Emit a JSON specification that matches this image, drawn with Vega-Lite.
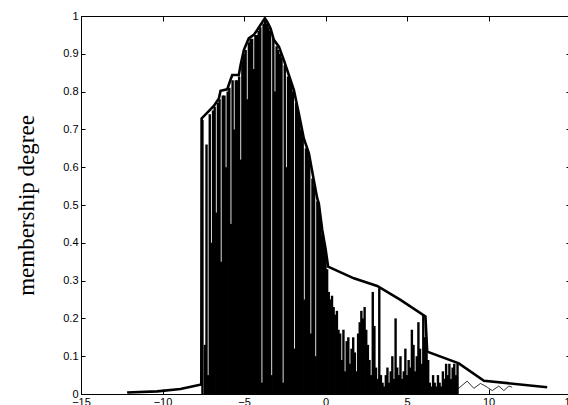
{
  "$schema": "https://vega.github.io/schema/vega-lite/v6.json",
  "width": 489,
  "height": 378,
  "autosize": {"type": "none"},
  "padding": {"left": 81, "top": 16, "right": 0, "bottom": 11},
  "background": "white",
  "config": {
    "view": {"stroke": "black", "strokeWidth": 1},
    "axis": {
      "grid": false,
      "domainColor": "black",
      "domainWidth": 1,
      "tickColor": "black",
      "tickWidth": 1,
      "labelColor": "black",
      "labelFont": "Liberation Sans",
      "labelFontSize": 11,
      "labelFlush": false,
      "labelOverlap": false,
      "titleColor": "black"
    }
  },
  "datasets": {
    "spikes": [
      {"x": -7.55, "h": 0.725}, {"x": -7.4, "h": 0.13}, {"x": -7.3, "h": 0.66}, {"x": -7.2, "h": 0.05},
      {"x": -7.1, "h": 0.74}, {"x": -7.0, "h": 0.40}, {"x": -6.9, "h": 0.75}, {"x": -6.8, "h": 0.76},
      {"x": -6.7, "h": 0.48}, {"x": -6.6, "h": 0.77}, {"x": -6.5, "h": 0.78}, {"x": -6.4, "h": 0.35},
      {"x": -6.3, "h": 0.79}, {"x": -6.2, "h": 0.79}, {"x": -6.1, "h": 0.60}, {"x": -6.0, "h": 0.80},
      {"x": -5.9, "h": 0.81}, {"x": -5.8, "h": 0.45}, {"x": -5.7, "h": 0.83}, {"x": -5.6, "h": 0.70},
      {"x": -5.5, "h": 0.83}, {"x": -5.4, "h": 0.83}, {"x": -5.3, "h": 0.84}, {"x": -5.2, "h": 0.62},
      {"x": -5.1, "h": 0.88}, {"x": -5.0, "h": 0.90}, {"x": -4.9, "h": 0.91}, {"x": -4.8, "h": 0.78},
      {"x": -4.7, "h": 0.93}, {"x": -4.6, "h": 0.94}, {"x": -4.5, "h": 0.94}, {"x": -4.4, "h": 0.86},
      {"x": -4.3, "h": 0.95}, {"x": -4.2, "h": 0.95}, {"x": -4.1, "h": 0.96}, {"x": -4.0, "h": 0.97},
      {"x": -3.9, "h": 0.03}, {"x": -3.8, "h": 0.98}, {"x": -3.7, "h": 0.99}, {"x": -3.6, "h": 0.98},
      {"x": -3.5, "h": 0.97}, {"x": -3.4, "h": 0.96}, {"x": -3.3, "h": 0.05}, {"x": -3.2, "h": 0.94},
      {"x": -3.1, "h": 0.80}, {"x": -3.0, "h": 0.92}, {"x": -2.9, "h": 0.91}, {"x": -2.8, "h": 0.90},
      {"x": -2.7, "h": 0.89}, {"x": -2.6, "h": 0.03}, {"x": -2.5, "h": 0.87}, {"x": -2.4, "h": 0.60},
      {"x": -2.3, "h": 0.84}, {"x": -2.2, "h": 0.83}, {"x": -2.1, "h": 0.82}, {"x": -2.0, "h": 0.80},
      {"x": -1.9, "h": 0.12}, {"x": -1.8, "h": 0.77}, {"x": -1.7, "h": 0.75}, {"x": -1.6, "h": 0.72},
      {"x": -1.5, "h": 0.70}, {"x": -1.4, "h": 0.68}, {"x": -1.3, "h": 0.25}, {"x": -1.2, "h": 0.65},
      {"x": -1.1, "h": 0.64}, {"x": -1.0, "h": 0.62}, {"x": -0.9, "h": 0.16}, {"x": -0.8, "h": 0.57},
      {"x": -0.7, "h": 0.55}, {"x": -0.6, "h": 0.10}, {"x": -0.5, "h": 0.51}, {"x": -0.4, "h": 0.49},
      {"x": -0.3, "h": 0.46}, {"x": -0.2, "h": 0.42}, {"x": -0.1, "h": 0.40}, {"x": 0.0, "h": 0.37},
      {"x": 0.1, "h": 0.33}, {"x": 0.2, "h": 0.27}, {"x": 0.3, "h": 0.25}, {"x": 0.4, "h": 0.26},
      {"x": 0.5, "h": 0.23}, {"x": 0.6, "h": 0.21}, {"x": 0.7, "h": 0.22}, {"x": 0.8, "h": 0.17},
      {"x": 0.9, "h": 0.16}, {"x": 1.0, "h": 0.09}, {"x": 1.1, "h": 0.17}, {"x": 1.2, "h": 0.06},
      {"x": 1.3, "h": 0.14}, {"x": 1.4, "h": 0.15}, {"x": 1.5, "h": 0.08}, {"x": 1.6, "h": 0.12},
      {"x": 1.7, "h": 0.15}, {"x": 1.8, "h": 0.11}, {"x": 1.9, "h": 0.06}, {"x": 2.0, "h": 0.16},
      {"x": 2.1, "h": 0.19}, {"x": 2.2, "h": 0.22}, {"x": 2.3, "h": 0.20}, {"x": 2.4, "h": 0.23},
      {"x": 2.5, "h": 0.17}, {"x": 2.6, "h": 0.13}, {"x": 2.7, "h": 0.09}, {"x": 2.8, "h": 0.05},
      {"x": 2.9, "h": 0.27}, {"x": 3.0, "h": 0.18}, {"x": 3.1, "h": 0.07}, {"x": 3.2, "h": 0.04},
      {"x": 3.3, "h": 0.28}, {"x": 3.4, "h": 0.05}, {"x": 3.5, "h": 0.03}, {"x": 3.6, "h": 0.02},
      {"x": 3.7, "h": 0.05}, {"x": 3.8, "h": 0.07}, {"x": 3.9, "h": 0.03}, {"x": 4.0, "h": 0.06},
      {"x": 4.1, "h": 0.10}, {"x": 4.2, "h": 0.04}, {"x": 4.3, "h": 0.20}, {"x": 4.4, "h": 0.07},
      {"x": 4.5, "h": 0.05}, {"x": 4.6, "h": 0.10}, {"x": 4.7, "h": 0.04}, {"x": 4.8, "h": 0.06},
      {"x": 4.9, "h": 0.12}, {"x": 5.0, "h": 0.05}, {"x": 5.1, "h": 0.09}, {"x": 5.2, "h": 0.07},
      {"x": 5.3, "h": 0.17}, {"x": 5.4, "h": 0.13}, {"x": 5.5, "h": 0.06}, {"x": 5.6, "h": 0.10},
      {"x": 5.7, "h": 0.19}, {"x": 5.8, "h": 0.12}, {"x": 5.9, "h": 0.08}, {"x": 6.0, "h": 0.21},
      {"x": 6.1, "h": 0.15}, {"x": 6.2, "h": 0.11}, {"x": 6.3, "h": 0.09}, {"x": 6.4, "h": 0.03},
      {"x": 6.5, "h": 0.02}, {"x": 6.6, "h": 0.05}, {"x": 6.7, "h": 0.03}, {"x": 6.8, "h": 0.02},
      {"x": 6.9, "h": 0.05}, {"x": 7.0, "h": 0.03}, {"x": 7.1, "h": 0.02}, {"x": 7.2, "h": 0.06},
      {"x": 7.3, "h": 0.04}, {"x": 7.4, "h": 0.08}, {"x": 7.5, "h": 0.05}, {"x": 7.6, "h": 0.08},
      {"x": 7.7, "h": 0.04}, {"x": 7.8, "h": 0.07}, {"x": 7.9, "h": 0.08}, {"x": 8.0, "h": 0.05},
      {"x": 8.1, "h": 0.08}
    ],
    "envelope": [
      {"x": -12.17, "y": 0.004}, {"x": -10.33, "y": 0.007}, {"x": -8.9, "y": 0.013}, {"x": -7.62, "y": 0.025},
      {"x": -7.6, "y": 0.729}, {"x": -6.85, "y": 0.762}, {"x": -6.54, "y": 0.782}, {"x": -6.44, "y": 0.802},
      {"x": -6.03, "y": 0.806}, {"x": -5.83, "y": 0.831}, {"x": -5.72, "y": 0.844}, {"x": -5.32, "y": 0.844},
      {"x": -5.21, "y": 0.870}, {"x": -5.01, "y": 0.910}, {"x": -4.71, "y": 0.941}, {"x": -4.40, "y": 0.950},
      {"x": -4.19, "y": 0.963}, {"x": -3.99, "y": 0.976}, {"x": -3.72, "y": 0.994}, {"x": -3.58, "y": 0.985},
      {"x": -3.37, "y": 0.967}, {"x": -3.17, "y": 0.937}, {"x": -2.86, "y": 0.919}, {"x": -2.56, "y": 0.884},
      {"x": -2.25, "y": 0.844}, {"x": -1.94, "y": 0.804}, {"x": -1.64, "y": 0.743}, {"x": -1.33, "y": 0.676},
      {"x": -1.02, "y": 0.637}, {"x": -0.72, "y": 0.566}, {"x": -0.51, "y": 0.518}, {"x": -0.41, "y": 0.504},
      {"x": -0.20, "y": 0.434}, {"x": 0.0, "y": 0.385}, {"x": 0.16, "y": 0.337}, {"x": 1.74, "y": 0.306},
      {"x": 3.17, "y": 0.286}, {"x": 4.6, "y": 0.249}, {"x": 6.13, "y": 0.205}, {"x": 6.24, "y": 0.112},
      {"x": 8.18, "y": 0.081}, {"x": 9.72, "y": 0.035}, {"x": 13.6, "y": 0.018}
    ],
    "tail": [
      {"x": 8.08, "y": 0.012}, {"x": 8.69, "y": 0.034}, {"x": 9.1, "y": 0.015}, {"x": 9.51, "y": 0.028},
      {"x": 9.92, "y": 0.018}, {"x": 10.23, "y": 0.009}, {"x": 10.63, "y": 0.021}, {"x": 10.94, "y": 0.009},
      {"x": 11.25, "y": 0.021}, {"x": 11.45, "y": 0.018}
    ]
  },
  "resolve": {"axis": {"x": "independent", "y": "independent"}},
  "layer": [
    {
      "data": {"name": "spikes"},
      "mark": {"type": "rule", "color": "black", "strokeWidth": 2.4},
      "encoding": {
        "x": {
          "field": "x", "type": "quantitative",
          "scale": {"domain": [-15, 15], "nice": false, "zero": false},
          "axis": {"orient": "bottom", "values": [-15, -10, -5, 0, 5, 10, 15], "tickSize": -5, "labelPadding": 7, "labelFlush": false, "title": null}
        },
        "y": {
          "field": "h", "type": "quantitative",
          "scale": {"domain": [0, 1], "nice": false},
          "axis": {
            "orient": "left",
            "values": [0, 0.1, 0.2, 0.3, 0.4, 0.5, 0.6, 0.7, 0.8, 0.9, 1],
            "format": "~g", "tickSize": -4, "labelPadding": 7, "labelFlush": false,
            "title": "membership degree", "titleFont": "Liberation Serif",
            "titleFontSize": 23, "titleFontWeight": "normal", "titlePadding": 24
          }
        },
        "y2": {"datum": 0}
      }
    },
    {
      "data": {"name": "envelope"},
      "mark": {"type": "line", "color": "black", "strokeWidth": 2.6},
      "encoding": {
        "x": {
          "field": "x", "type": "quantitative",
          "axis": {"orient": "top", "values": [-15, -10, -5, 0, 5, 10, 15], "tickSize": -5, "labels": false, "title": null}
        },
        "y": {
          "field": "y", "type": "quantitative",
          "axis": {"orient": "right", "values": [0, 0.1, 0.2, 0.3, 0.4, 0.5, 0.6, 0.7, 0.8, 0.9, 1], "tickSize": -4, "labels": false, "title": null}
        }
      }
    },
    {
      "data": {"name": "tail"},
      "mark": {"type": "line", "color": "black", "strokeWidth": 0.8},
      "encoding": {
        "x": {"field": "x", "type": "quantitative", "axis": null},
        "y": {"field": "y", "type": "quantitative", "axis": null}
      }
    }
  ]
}
